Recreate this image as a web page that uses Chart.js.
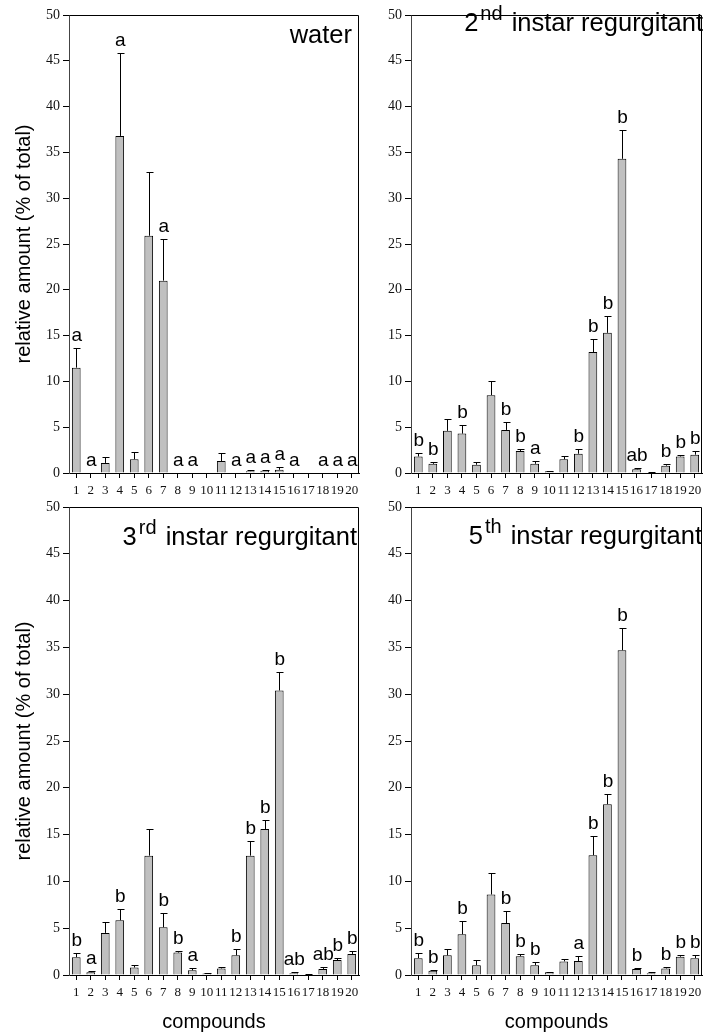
<!DOCTYPE html>
<html>
<head>
<meta charset="utf-8">
<title>Relative amounts of compounds</title>
<script src="https://cdn.jsdelivr.net/npm/chart.js@4.4.0/dist/chart.umd.min.js"></script>
<style>
  html, body { margin: 0; padding: 0; background: #fff; }
  #page { position: relative; width: 704px; height: 1034px; overflow: hidden; }
  canvas { position: absolute; }
</style>
</head>
<body>
<div id="page">
  <canvas id="waterChart" width="360" height="500" style="left:0;top:0"></canvas>
  <canvas id="instar2Chart" width="344" height="500" style="left:360px;top:0"></canvas>
  <canvas id="instar3Chart" width="360" height="534" style="left:0;top:500px"></canvas>
  <canvas id="instar5Chart" width="344" height="534" style="left:360px;top:500px"></canvas>
</div>
<script>
// ---- data ----
const compounds = ['1', '2', '3', '4', '5', '6', '7', '8', '9', '10',
                   '11', '12', '13', '14', '15', '16', '17', '18', '19', '20'];
const yTicks = [0, 5, 10, 15, 20, 25, 30, 35, 40, 45, 50];

const waterMean = [11.5, 0, 1.1, 36.8, 1.5, 25.9, 21.0, 0, 0, 0, 1.3, 0, 0.2, 0.25, 0.35, 0, 0, 0, 0, 0];
const waterErr = [2.2, 0, 0.7, 9.0, 0.8, 7.0, 4.6, 0, 0, 0, 0.9, 0, 0.15, 0.1, 0.3, 0, 0, 0, 0, 0];
const waterLetters = ['a', 'a', '', 'a', '', '', 'a', 'a', 'a', '', '', 'a', 'a', 'a', 'a', 'a', '', 'a', 'a', 'a'];

const instar2Mean = [1.8, 1.0, 4.6, 4.3, 0.9, 8.5, 4.7, 2.4, 1.0, 0.2, 1.5, 2.1, 13.2, 15.3, 34.3, 0.4, 0.05, 0.8, 1.8, 2.0];
const instar2Err = [0.4, 0.2, 1.3, 0.9, 0.3, 1.5, 0.9, 0.25, 0.35, 0.05, 0.35, 0.5, 1.4, 1.8, 3.1, 0.1, 0.05, 0.15, 0.2, 0.4];
const instar2Letters = ['b', 'b', '', 'b', '', '', 'b', 'b', 'a', '', '', 'b', 'b', 'b', 'b', 'ab', '', 'b', 'b', 'b'];

const instar3Mean = [1.9, 0.3, 4.5, 5.85, 0.8, 12.75, 5.1, 2.4, 0.5, 0.15, 0.7, 2.1, 12.75, 15.6, 30.4, 0.2, 0.05, 0.65, 1.6, 2.25];
const instar3Err = [0.4, 0.15, 1.2, 1.15, 0.3, 2.85, 1.5, 0.2, 0.2, 0.1, 0.2, 0.65, 1.55, 1.0, 2.0, 0.1, 0.05, 0.25, 0.2, 0.35];
const instar3Letters = ['b', 'a', '', 'b', '', '', 'b', 'b', 'a', '', '', 'b', 'b', 'b', 'b', 'ab', '', 'ab', 'b', 'b'];

const instar5Mean = [1.8, 0.45, 2.1, 4.35, 1.05, 8.6, 5.55, 2.0, 1.05, 0.3, 1.45, 1.5, 12.8, 18.25, 34.7, 0.65, 0.2, 0.7, 1.95, 1.8];
const instar5Err = [0.6, 0.1, 0.65, 1.45, 0.5, 2.3, 1.25, 0.25, 0.35, 0.05, 0.25, 0.55, 2.05, 1.1, 2.4, 0.15, 0.1, 0.15, 0.2, 0.3];
const instar5Letters = ['b', 'b', '', 'b', '', '', 'b', 'b', 'b', '', '', 'a', 'b', 'b', 'b', 'b', '', 'b', 'b', 'b'];

const SANS = '"Liberation Sans", Arial, sans-serif';
const SERIF = '"Liberation Serif", "Times New Roman", serif';

// ---- frame, error bars, significance letters, panel title ----
const panelDecor = {
    id: 'panelDecor',
    afterDatasetsDraw(chart, args, opts) {
        const ctx = chart.ctx;
        const area = chart.chartArea;
        const yScale = chart.scales.y;
        const meta = chart.getDatasetMeta(0);
        const mean = chart.data.datasets[0].data;

        ctx.save();
        // top and right edges of the box
        ctx.strokeStyle = '#000';
        ctx.lineWidth = 1;
        ctx.beginPath();
        ctx.moveTo(Math.round(area.left) + 0.5, Math.round(area.top) + 0.5);
        ctx.lineTo(Math.round(area.right) - 0.5, Math.round(area.top) + 0.5);
        ctx.lineTo(Math.round(area.right) - 0.5, Math.round(area.bottom));
        ctx.stroke();

        // upper error bars
        meta.data.forEach((bar, i) => {
            const e = opts.err[i];
            if (!e) return;
            const x = Math.round(bar.x) + 0.5;
            const top = Math.round(yScale.getPixelForValue(mean[i] + e)) + 0.5;
            ctx.beginPath();
            ctx.moveTo(x, bar.y);
            ctx.lineTo(x, top);
            ctx.moveTo(x - 3, top);
            ctx.lineTo(x + 4, top);
            ctx.stroke();
        });

        // letters above bars
        ctx.fillStyle = '#000';
        ctx.font = '19px ' + SANS;
        ctx.textAlign = 'center';
        ctx.textBaseline = 'alphabetic';
        meta.data.forEach((bar, i) => {
            const letter = opts.letters[i];
            if (!letter) return;
            const y = yScale.getPixelForValue(mean[i] + (opts.err[i] || 0)) - 7;
            ctx.fillText(letter, bar.x + 0.5, y);
        });

        // panel title, with an optional superscript after the leading number
        const t = opts.title;
        const mainFont = '25.5px ' + SANS;
        const supFont = '20px ' + SANS;
        const gapNum = t.sup ? 2 : 0;
        const gapSup = t.sup ? 2 : 0;
        ctx.textAlign = 'left';
        ctx.font = mainFont;
        const wNum = ctx.measureText(t.num).width;
        const wMain = ctx.measureText(t.text).width;
        ctx.font = supFont;
        const wSup = t.sup ? ctx.measureText(t.sup).width : 0;
        const baseY = area.top + t.dy;
        let x = area.right + t.dx - (wNum + gapNum + wSup + gapSup + wMain);
        ctx.font = mainFont;
        ctx.fillText(t.num, x, baseY);
        x += wNum + gapNum;
        if (t.sup) {
            ctx.font = supFont;
            ctx.fillText(t.sup, x, baseY - 11);
            x += wSup + gapSup;
        }
        ctx.font = mainFont;
        ctx.fillText(t.text, x, baseY);
        ctx.restore();
    }
};

function makePanel(id, mean, err, letters, title, cfg) {
    new Chart(document.getElementById(id), {
        type: 'bar',
        data: {
            labels: compounds,
            datasets: [{
                data: mean,
                backgroundColor: '#c0c0c0',
                borderColor: '#000',
                borderWidth: 1,
                barPercentage: 0.6,
                categoryPercentage: 1
            }]
        },
        plugins: [panelDecor],
        options: {
            responsive: false,
            animation: false,
            layout: { padding: { top: cfg.padTop, right: cfg.padRight, bottom: 0, left: 0 } },
            plugins: {
                legend: { display: false },
                tooltip: { enabled: false },
                panelDecor: { err: err, letters: letters, title: title }
            },
            scales: {
                x: {
                    afterFit: (s) => {
                        s.height = cfg.xHeight;
                        s.paddingLeft = 0;
                        s.paddingRight = 0;
                    },
                    grid: { display: true, drawOnChartArea: false, offset: false, tickLength: 5, color: '#000' },
                    border: { display: true, color: '#000' },
                    ticks: {
                        autoSkip: false, maxRotation: 0, minRotation: 0, padding: 5,
                        color: '#111', font: { family: SERIF, size: 13 }
                    },
                    title: {
                        display: cfg.xTitle,
                        text: 'compounds',
                        color: '#000',
                        font: { family: SANS, size: 20 },
                        padding: { top: 0, bottom: 0 }
                    }
                },
                y: {
                    min: 0,
                    max: 50,
                    afterFit: (s) => {
                        s.width = cfg.yWidth;
                        s.paddingTop = 0;
                        s.paddingBottom = 0;
                    },
                    afterBuildTicks: (s) => { s.ticks = yTicks.map(v => ({ value: v })); },
                    grid: { drawOnChartArea: false, tickLength: 6, color: '#000' },
                    border: { display: true, color: '#444' },
                    ticks: { padding: 3, color: '#111', font: { family: SERIF, size: 14 } },
                    title: {
                        display: cfg.yTitle,
                        text: 'relative amount (% of total)',
                        color: '#000',
                        font: { family: SANS, size: 20 },
                        padding: { top: 12, bottom: 0 }
                    }
                }
            }
        }
    });
}

makePanel('waterChart', waterMean, waterErr, waterLetters,
    { num: '', sup: '', text: 'water', dx: -7, dy: 28 },
    { padTop: 15, padRight: 1, xHeight: 27, yWidth: 69, xTitle: false, yTitle: true });

makePanel('instar2Chart', instar2Mean, instar2Err, instar2Letters,
    { num: '2', sup: 'nd', text: ' instar regurgitant', dx: 1, dy: 16 },
    { padTop: 15, padRight: 2, xHeight: 27, yWidth: 51, xTitle: false, yTitle: false });

makePanel('instar3Chart', instar3Mean, instar3Err, instar3Letters,
    { num: '3', sup: 'rd', text: ' instar regurgitant', dx: -2, dy: 38 },
    { padTop: 7, padRight: 1, xHeight: 59, yWidth: 69, xTitle: true, yTitle: true });

makePanel('instar5Chart', instar5Mean, instar5Err, instar5Letters,
    { num: '5', sup: 'th', text: ' instar regurgitant', dx: 0, dy: 37 },
    { padTop: 7, padRight: 2, xHeight: 59, yWidth: 51, xTitle: true, yTitle: false });
</script>
</body>
</html>
